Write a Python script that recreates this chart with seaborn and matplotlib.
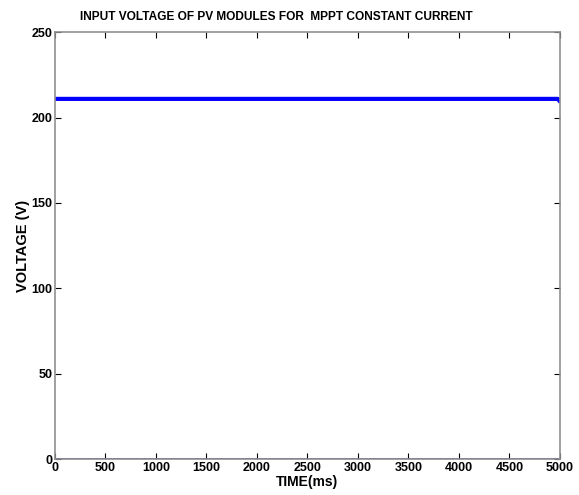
import matplotlib
matplotlib.use("Agg")
import matplotlib.pyplot as plt
import seaborn as sns
import pandas as pd

sns.set_theme(style="white")
plt.rcParams['font.family'] = ['Liberation Sans', 'DejaVu Sans']
plt.rcParams['text.color'] = 'black'
plt.rcParams['axes.labelcolor'] = 'black'
plt.rcParams['xtick.color'] = 'black'
plt.rcParams['ytick.color'] = 'black'

time_ms = [0, 4980, 5000]
voltage = [211.0, 211.0, 209.5]
time_zero = [0, 5000]
voltage_zero = [0.0, 0.0]

x_ticks = [0, 500, 1000, 1500, 2000, 2500, 3000, 3500, 4000, 4500, 5000]
y_ticks = [0, 50, 100, 150, 200, 250]

df = pd.DataFrame({"t": time_ms, "v": voltage})
df0 = pd.DataFrame({"t": time_zero, "v": voltage_zero})

fig = plt.figure(figsize=(5.79, 4.95), dpi=100)
ax = fig.add_axes([0.095, 0.0727, 0.872, 0.862])
sns.lineplot(data=df0, x="t", y="v", ax=ax, color="#1a1aa8", linewidth=1.8)
sns.lineplot(data=df, x="t", y="v", ax=ax, color="#0000ff", linewidth=3)

ax.set_xlim(0, 5000)
ax.set_ylim(0, 250)
ax.set_xticks(x_ticks)
ax.set_yticks(y_ticks)
ax.tick_params(direction="in", top=True, right=True, bottom=True, left=True,
               length=4, width=0.8, labelsize=9, pad=2)
for lab in ax.get_xticklabels() + ax.get_yticklabels():
    lab.set_fontweight("bold")
for s in ax.spines.values():
    s.set_color("#909090")
    s.set_linewidth(1.2)
ax.set_xlabel("TIME(ms)", fontsize=10, fontweight="bold", labelpad=1)
ax.set_ylabel("VOLTAGE (V)", fontsize=10.5, fontweight="bold", labelpad=1)
ax.set_title("INPUT VOLTAGE OF PV MODULES FOR  MPPT CONSTANT CURRENT",
             fontsize=8.6, fontweight="bold", pad=9, x=0.438)
ax.grid(False)
fig.savefig("out.png", dpi=100, facecolor="white")
